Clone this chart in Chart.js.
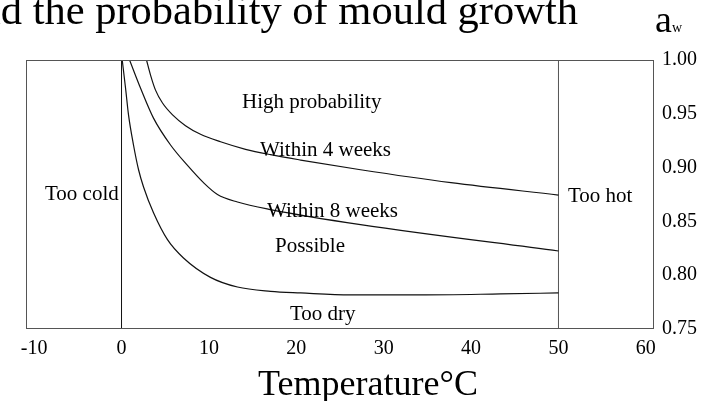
<!DOCTYPE html>
<html>
<head>
<meta charset="utf-8">
<script src="https://cdn.jsdelivr.net/npm/chart.js@4/dist/chart.umd.min.js"></script>
<style>
  html,body{margin:0;padding:0;background:#fff;}
  #wrap{width:701px;height:401px;position:relative;}
</style>
</head>
<body>
<div id="wrap"><canvas id="c" width="701" height="401"></canvas></div>
<script>
// ---- data ----
const xTickValues = [-10, 0, 10, 20, 30, 40, 50, 60];
const awTickValues = [0.75, 0.80, 0.85, 0.90, 0.95, 1.00];

// boundary "too dry" / possible
const tempDry = [0.08, 0.46, 0.80, 1.37, 1.95, 2.52, 3.66, 5.26, 7.09, 10.18, 13.27, 17.05, 20.5, 26.2, 34.2, 43.4, 50];
const awDry   = [1.000, 0.974, 0.949, 0.921, 0.898, 0.882, 0.858, 0.833, 0.816, 0.798, 0.789, 0.785, 0.7835, 0.7817, 0.7817, 0.7826, 0.7835];

// boundary "within 8 weeks"
const temp8w = [0.92, 2.17, 3.66, 5.61, 7.55, 9.38, 10.98, 13.27, 17.05, 27.35, 50];
const aw8w   = [1.000, 0.974, 0.946, 0.921, 0.902, 0.886, 0.875, 0.868, 0.861, 0.847, 0.8225];

// boundary "within 4 weeks"
const temp4w = [2.86, 3.32, 3.89, 4.69, 5.84, 7.32, 9.04, 11.33, 14.19, 17.05, 20.5, 27.35, 37.7, 50];
const aw4w   = [1.000, 0.986, 0.972, 0.960, 0.949, 0.939, 0.931, 0.924, 0.917, 0.912, 0.907, 0.898, 0.886, 0.8745];

// temperature limits
const coldLimit = 0;
const hotLimit = 50;

const titleText = "and the probability of mould growth";
const xTitleText = "Temperature°C";
const regionLabels = ["High probability", "Within 4 weeks", "Within 8 weeks", "Possible", "Too dry", "Too cold", "Too hot"];

// ---- build datasets ----
const pts = (xs, ys) => xs.map((x, i) => ({x: x, y: ys[i]}));
const curveStyle = {borderColor: '#111', borderWidth: 1.2, pointRadius: 0, fill: false, cubicInterpolationMode: 'monotone'};

const datasets = [
  Object.assign({label: 'Too dry boundary', data: pts(tempDry, awDry)}, curveStyle),
  Object.assign({label: 'Within 8 weeks', data: pts(temp8w, aw8w)}, curveStyle),
  Object.assign({label: 'Within 4 weeks', data: pts(temp4w, aw4w)}, curveStyle),
  {label: 'Too cold', data: [{x: coldLimit, y: 0.75}, {x: coldLimit, y: 1.0}], borderColor: '#111', borderWidth: 1, pointRadius: 0},
  {label: 'Too hot', data: [{x: hotLimit, y: 0.75}, {x: hotLimit, y: 1.0}], borderColor: '#555', borderWidth: 1, pointRadius: 0}
];

const serif = "'Liberation Serif', 'Times New Roman', serif";

const decor = {
  id: 'decor',
  afterDatasetsDraw(chart) {
    const ctx = chart.ctx;
    const a = chart.chartArea;
    ctx.save();
    // frame
    ctx.strokeStyle = '#555';
    ctx.lineWidth = 1;
    ctx.strokeRect(Math.round(a.left) + 0.5, Math.round(a.top) + 0.5, Math.round(a.right - a.left) - 1, Math.round(a.bottom - a.top) - 1);

    ctx.fillStyle = '#000';
    ctx.textBaseline = 'alphabetic';
    // region labels
    ctx.font = "21px " + serif;
    ctx.textAlign = 'left';
    const lp = [[242,108],[260,156],[267,217],[275,252],[290,320],[45,200],[568,202]];
    regionLabels.forEach((t, i) => ctx.fillText(t, lp[i][0], lp[i][1]));

    // chart title (cut off at the left edge, as in the reference)
    ctx.font = "42.5px " + serif;
    ctx.textAlign = 'right';
    ctx.fillText(titleText, 578, 24);

    // a_w label
    ctx.textAlign = 'left';
    ctx.font = "38px " + serif;
    ctx.fillText('a', 655, 32);
    ctx.font = "14px " + serif;
    ctx.fillText('w', 672, 32);

    // x-axis title
    ctx.font = "36px " + serif;
    ctx.textAlign = 'center';
    ctx.fillText(xTitleText, 368, 395);
    ctx.restore();
  }
};

new Chart(document.getElementById('c'), {
  type: 'line',
  data: {datasets: datasets},
  options: {
    responsive: false,
    animation: false,
    layout: {padding: {left: 26, top: 60, right: 0, bottom: 0}},
    plugins: {legend: {display: false}, tooltip: {enabled: false}},
    scales: {
      x: {
        type: 'linear',
        position: 'bottom',
        min: -10.93,
        max: 60.93,
        grid: {display: false, drawTicks: false},
        border: {display: false},
        afterBuildTicks: (s) => { s.ticks = xTickValues.map(v => ({value: v})); },
        afterFit: (s) => { s.height = 72; },
        ticks: {
          color: '#000',
          font: {family: serif, size: 20},
          padding: 8,
          maxRotation: 0,
          autoSkip: false,
          callback: (v) => String(v)
        }
      },
      y: {
        type: 'linear',
        position: 'right',
        min: 0.75,
        max: 1.0,
        grid: {display: false, drawTicks: false},
        border: {display: false},
        afterBuildTicks: (s) => { s.ticks = awTickValues.map(v => ({value: v})); },
        afterFit: (s) => { s.width = 47; },
        ticks: {
          color: '#000',
          font: {family: serif, size: 20},
          padding: 8,
          autoSkip: false,
          callback: (v) => Number(v).toFixed(2)
        }
      }
    }
  },
  plugins: [decor]
});
</script>
</body>
</html>
